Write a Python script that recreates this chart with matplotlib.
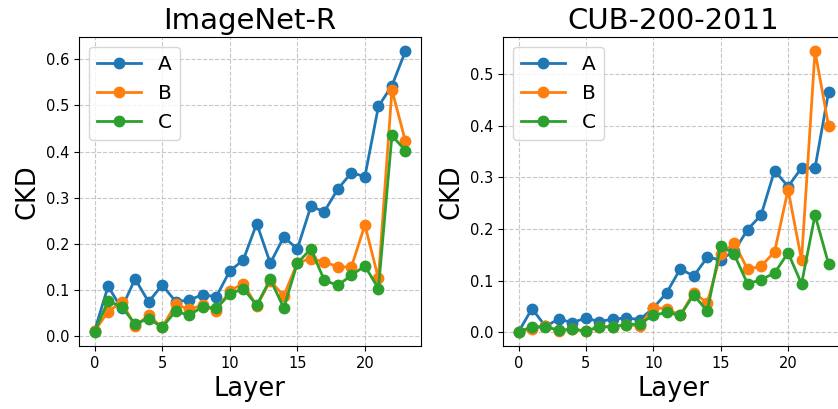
import matplotlib
matplotlib.use("Agg")
import matplotlib.pyplot as plt

layers = list(range(24))

# ImageNet-R
inr_a = [0.011, 0.108, 0.060, 0.124, 0.074, 0.111, 0.075, 0.078, 0.090, 0.085,
         0.141, 0.165, 0.244, 0.158, 0.215, 0.189, 0.281, 0.270, 0.319, 0.354,
         0.346, 0.498, 0.543, 0.618]
inr_b = [0.011, 0.053, 0.074, 0.022, 0.045, 0.019, 0.069, 0.058, 0.067, 0.055,
         0.098, 0.114, 0.065, 0.120, 0.087, 0.159, 0.168, 0.161, 0.150, 0.150,
         0.241, 0.125, 0.534, 0.422]
inr_c = [0.009, 0.076, 0.064, 0.026, 0.038, 0.019, 0.054, 0.045, 0.064, 0.060,
         0.091, 0.103, 0.067, 0.123, 0.061, 0.158, 0.189, 0.121, 0.110, 0.132,
         0.152, 0.103, 0.435, 0.402]

# CUB-200-2011
cub_a = [0.001, 0.046, 0.012, 0.026, 0.019, 0.028, 0.021, 0.026, 0.028, 0.025,
         0.047, 0.077, 0.123, 0.109, 0.145, 0.141, 0.157, 0.199, 0.227, 0.313,
         0.282, 0.318, 0.318, 0.464]
cub_b = [0.001, 0.007, 0.013, 0.003, 0.007, 0.002, 0.011, 0.011, 0.015, 0.013,
         0.048, 0.046, 0.033, 0.077, 0.057, 0.151, 0.173, 0.122, 0.128, 0.156,
         0.276, 0.140, 0.544, 0.400]
cub_c = [0.001, 0.011, 0.011, 0.004, 0.006, 0.003, 0.011, 0.011, 0.015, 0.017,
         0.033, 0.039, 0.033, 0.073, 0.041, 0.168, 0.151, 0.094, 0.102, 0.115,
         0.154, 0.094, 0.227, 0.133]

titles = ["ImageNet-R", "CUB-200-2011"]
series = [[inr_a, inr_b, inr_c], [cub_a, cub_b, cub_c]]
names = ["A", "B", "C"]
colors = ["#1f77b4", "#ff7f0e", "#2ca02c"]

fig = plt.figure(figsize=(8.38, 4.09), dpi=100)
W, H = 838, 409
positions = [[79 / W, 63 / H, 342 / W, 309 / H],
             [503 / W, 63 / H, 341 / W, 309 / H]]

for pos, title, data in zip(positions, titles, series):
    ax = fig.add_axes(pos)
    for vals, name, col in zip(data, names, colors):
        ax.plot(layers, vals, marker="o", color=col, label=name,
                linewidth=2, markersize=7.5)
    ax.set_title(title, fontsize=21)
    ax.set_xlabel("Layer", fontsize=18.5)
    ax.set_ylabel("CKD", fontsize=18.5)
    ax.tick_params(labelsize=10.5)
    ax.set_xticks([0, 5, 10, 15, 20])
    ax.grid(True, linestyle="--", alpha=0.7)
    ax.legend(loc="upper left", fontsize=14.5, handlelength=2.2)

fig.savefig("out.png", dpi=100)
